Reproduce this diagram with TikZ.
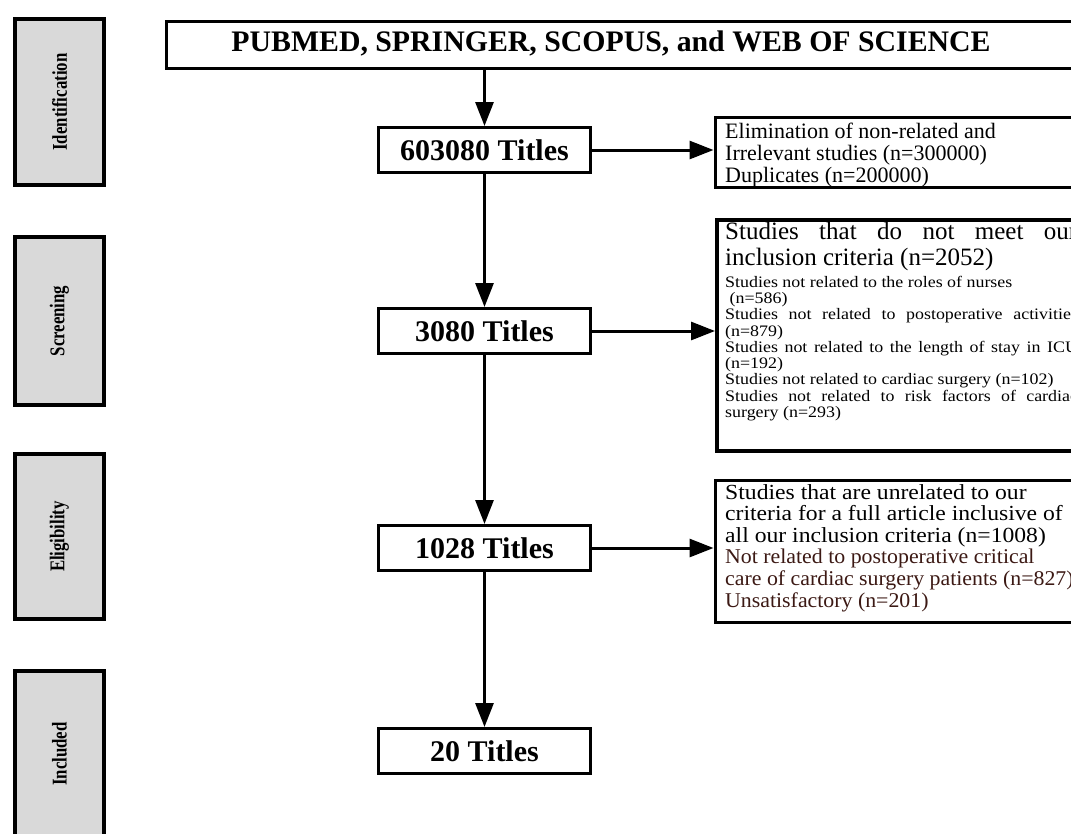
\documentclass[tikz,border=0pt]{standalone}
\usepackage{fontspec}
\setmainfont{Liberation Serif}
\usetikzlibrary{arrows.meta}
\definecolor{phasegray}{RGB}{217,217,217}
\definecolor{darktext}{RGB}{60,25,20}
\begin{document}
\begin{tikzpicture}[x=1pt,y=-1pt,
  phase/.style={draw,line width=4pt,fill=phasegray,minimum width=89pt,inner sep=0pt},
  phaselabel/.style={rotate=90,font=\fontsize{21}{24}\selectfont\bfseries},
  titlebox/.style={draw,line width=3pt,minimum width=212pt,minimum height=45pt,inner sep=0pt,font=\fontsize{30}{32}\selectfont\bfseries},
  sidebox/.style={draw,line width=3pt,anchor=north west,inner sep=0pt},
  flow/.style={line width=3pt,-{Triangle[length=24pt,width=18pt]}},
  txt/.style={anchor=north west,inner sep=0pt,align=left}
]
\clip (0,0) rectangle (1071,833);
\fill[white] (0,0) rectangle (1071,833);

% phase boxes
\node[phase,minimum height=166pt] (p1) at (59.5,102) {};
\node[phaselabel] (p1t) at (p1.center) {\scalebox{0.8}[1]{Identification}};
\node[phase,minimum height=168pt] (p2) at (59.5,321) {};
\node[phaselabel] (p2t) at (p2.center) {\scalebox{0.8}[1]{Screening}};
\node[phase,minimum height=165pt] (p3) at (59.5,536.5) {};
\node[phaselabel] (p3t) at (p3.center) {\scalebox{0.8}[1]{Eligibility}};
\node[phase,minimum height=166pt] (p4) at (59.5,754) {};
\node[phaselabel] (p4t) at (p4.center) {\scalebox{0.8}[1]{Included}};

% database box
\node[draw,line width=3pt,anchor=north west,minimum width=940pt,minimum height=47pt,inner sep=0pt] (db) at (165,19.5) {};
\node[font=\fontsize{29.8}{31}\selectfont\bfseries,inner sep=0pt] (dbt) at (611,43) {PUBMED, SPRINGER, SCOPUS, and WEB OF SCIENCE};

% title boxes
\node[titlebox] (t1) at (484.5,150) {603080 Titles};
\node[titlebox] (t2) at (484.5,331) {3080 Titles};
\node[titlebox] (t3) at (484.5,548) {1028 Titles};
\node[titlebox] (t4) at (484.5,751) {20 Titles};

% side boxes
\node[sidebox,minimum width=400pt,minimum height=70pt] (r1) at (713.5,115.5) {};
\node[sidebox,line width=4pt,minimum width=400pt,minimum height=231pt] (r2) at (715,218) {};
\node[sidebox,minimum width=400pt,minimum height=142pt] (r3) at (713.5,478.5) {};

% texts in side boxes
\node[txt,font=\fontsize{22}{22}\selectfont] (r1t) at (725,123) {Elimination of non-related and\\Irrelevant studies (n=300000)\\Duplicates (n=200000)};

\node[txt,font=\fontsize{25}{26}\selectfont] (r2a) at (725,222) {\makebox[352pt][s]{Studies that do not meet our}\\inclusion criteria (n=2052)};
\node[txt] (r2b) at (725,276) {\scalebox{1.12}[1]{\parbox[t]{320pt}{\fontsize{16}{16.25}\selectfont
Studies not related to the roles of nurses\\
\hspace*{4pt}(n=586)\\
\makebox[315pt][s]{Studies not related to postoperative activities}\\
(n=879)\\
\makebox[315pt][s]{Studies not related to the length of stay in ICU}\\
(n=192)\\
Studies not related to cardiac surgery (n=102)\\
\makebox[315pt][s]{Studies not related to risk factors of cardiac}\\
surgery (n=293)}}};

\node[txt] (r3a) at (725,484) {\scalebox{1.1}[1]{\parbox[t]{320pt}{\fontsize{21.5}{21.7}\selectfont Studies that are unrelated to our\\criteria for a full article inclusive of\\all our inclusion criteria (n=1008)}}};
\node[txt,text=darktext] (r3b) at (725,549) {\scalebox{1.04}[1]{\parbox[t]{340pt}{\fontsize{21}{21.7}\selectfont Not related to postoperative critical\\care of cardiac surgery patients (n=827)\\Unsatisfactory (n=201)}}};

% connectors
\draw[flow] (db.south -| t1.north) -- (t1.north);
\draw[flow] (t1.south) -- (t2.north);
\draw[flow] (t2.south) -- (t3.north);
\draw[flow] (t3.south) -- (t4.north);
\draw[flow] (t1.east) -- (t1.east -| r1.west);
\draw[flow] (t2.east) -- (t2.east -| r2.west);
\draw[flow] (t3.east) -- (t3.east -| r3.west);
\end{tikzpicture}
\end{document}
